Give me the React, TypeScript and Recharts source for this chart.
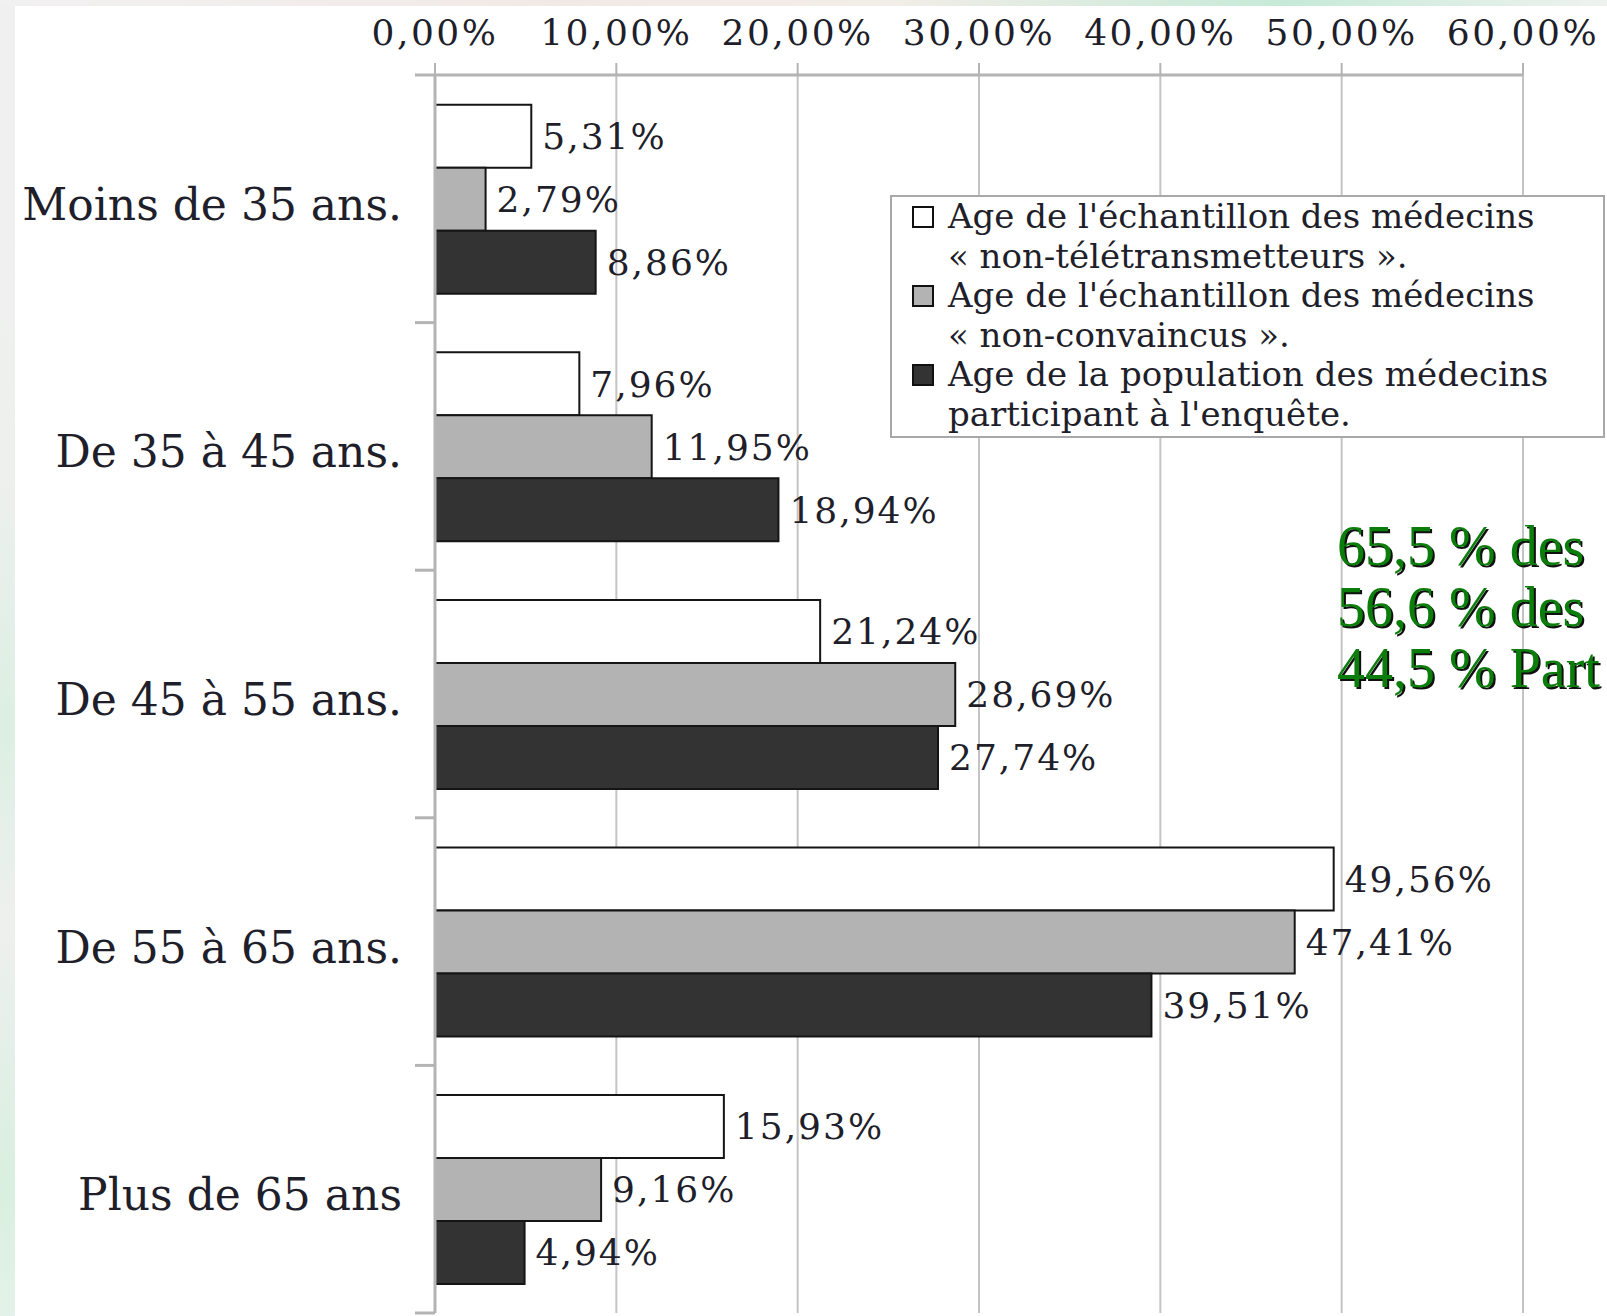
import React from 'react';
import { BarChart, Bar, XAxis, YAxis, CartesianGrid, LabelList, Legend } from 'recharts';

const categories = ['Moins de 35 ans.', 'De 35 à 45 ans.', 'De 45 à 55 ans.', 'De 55 à 65 ans.', 'Plus de 65 ans'];
const nonTeletransmetteurs = [5.31, 7.96, 21.24, 49.56, 15.93];
const nonConvaincus = [2.79, 11.95, 28.69, 47.41, 9.16];
const population = [8.86, 18.94, 27.74, 39.51, 4.94];
const xTicks = [0, 10, 20, 30, 40, 50, 60];
const seriesNames = [
  "Age de l'échantillon des médecins\n« non-télétransmetteurs ».",
  "Age de l'échantillon des médecins\n« non-convaincus ».",
  "Age de la population des médecins\nparticipant à l'enquête.",
];
const noteLines = ['65,5 % des', '56,6 % des', '44,5 % Part'];

const data = categories.map((cat, i) => ({
  category: cat,
  s1: nonTeletransmetteurs[i],
  s2: nonConvaincus[i],
  s3: population[i],
}));

const AXIS = '#b4b4b4';
const TEXT = '#1f1f2b';
const SERIF = "'DejaVu Serif', serif";
const Y_TICK_SIZE = 20;
const Y_TICK_MARGIN = 13;

const fmt = (v: any) => Number(v).toFixed(2).replace('.', ',') + '%';

const XTick = (props: any) => {
  const { x, y, payload } = props;
  return (
    <text x={x} y={y} textAnchor="middle" fontFamily={SERIF} fontSize={36} fill={TEXT} style={{ letterSpacing: 2.5 }}>
      {fmt(payload.value)}
    </text>
  );
};

const YTick = (props: any) => {
  const { x, y, payload, index, visibleTicksCount } = props;
  const half = payload && payload.offset ? payload.offset : 0;
  const axisX = x + Y_TICK_SIZE + Y_TICK_MARGIN;
  const count = visibleTicksCount || categories.length;
  return (
    <g>
      <line x1={axisX - Y_TICK_SIZE} x2={axisX} y1={y - half} y2={y - half} stroke={AXIS} strokeWidth={3} />
      {index === count - 1 && (
        <line x1={axisX - Y_TICK_SIZE} x2={axisX} y1={y + half} y2={y + half} stroke={AXIS} strokeWidth={3} />
      )}
      <text x={x} y={y} dy={21} textAnchor="end" fontFamily={SERIF} fontSize={44} fill={TEXT}>
        {payload.value}
      </text>
    </g>
  );
};

const renderLegend = (props: any) => {
  const { payload } = props;
  return (
    <div
      style={{
        border: '2px solid #a8a8a8',
        background: '#fff',
        boxSizing: 'border-box',
        width: 715,
        fontFamily: SERIF,
        fontSize: 34,
        lineHeight: '39.5px',
        color: TEXT,
        paddingBottom: 2,
      }}
    >
      {(payload || []).map((p: any, i: number) => (
        <div key={i} style={{ display: 'flex', alignItems: 'flex-start' }}>
          <div
            style={{
              width: 22,
              height: 22,
              marginLeft: 20,
              marginTop: 9,
              marginRight: 14,
              border: '2px solid #111',
              background: p.color,
              boxSizing: 'border-box',
              flex: 'none',
            }}
          />
          <div style={{ whiteSpace: 'pre' }}>{p.value}</div>
        </div>
      ))}
    </div>
  );
};

const labelStyle = { fontFamily: SERIF, fontSize: 36, fill: TEXT, letterSpacing: 2 } as any;

export default function App() {
  return (
    <div
      style={{
        position: 'absolute',
        left: 0,
        top: 0,
        width: 1607,
        height: 1316,
        overflow: 'hidden',
        background:
          'linear-gradient(90deg, #f2f1f1 0%, #f1e9e6 35%, #f3ede8 55%, #c6ead7 80%, #eef2ef 100%)',
      }}
    >
      <div
        style={{
          position: 'absolute',
          left: 0,
          top: 6,
          width: 15,
          bottom: 0,
          background: 'linear-gradient(180deg, #f0f0f0 0%, #eef0ee 35%, #dcefe2 55%, #eef0ee 70%, #d9efe0 90%, #e3f2e8 100%)',
        }}
      />
      <div style={{ position: 'absolute', left: 15, top: 6, right: 0, bottom: 0, background: '#ffffff' }} />
      <div style={{ position: 'absolute', left: 0, top: 0 }}>
        <BarChart
          width={1607}
          height={1316}
          data={data}
          layout="vertical"
          margin={{ top: 15, left: 15, right: 84, bottom: 3 }}
          barCategoryGap="12%"
          barGap={0}
        >
          <CartesianGrid horizontal={false} stroke="#c4c4c4" strokeWidth={2} />
          <XAxis
            type="number"
            orientation="top"
            domain={[0, 60]}
            ticks={xTicks}
            height={60}
            tickSize={12}
            tickMargin={18}
            axisLine={{ stroke: AXIS, strokeWidth: 3 }}
            tickLine={{ stroke: AXIS, strokeWidth: 2 }}
            tick={<XTick />}
            interval={0}
          />
          <YAxis
            type="category"
            dataKey="category"
            width={420}
            tickSize={Y_TICK_SIZE}
            tickMargin={Y_TICK_MARGIN}
            tickLine={false}
            axisLine={{ stroke: AXIS, strokeWidth: 3 }}
            tick={<YTick />}
            interval={0}
          />
          <Legend
            layout="horizontal"
            align="center"
            verticalAlign="middle"
            itemSorter="dataKey"
            content={renderLegend}
            wrapperStyle={{ left: 890, top: 195, width: 715, height: 'auto' }}
          />
          <Bar dataKey="s1" name={seriesNames[0]} fill="#ffffff" stroke="#151515" strokeWidth={2} isAnimationActive={false}>
            <LabelList dataKey="s1" position="right" offset={11} formatter={fmt} style={labelStyle} />
          </Bar>
          <Bar dataKey="s2" name={seriesNames[1]} fill="#b3b3b3" stroke="#151515" strokeWidth={2} isAnimationActive={false}>
            <LabelList dataKey="s2" position="right" offset={11} formatter={fmt} style={labelStyle} />
          </Bar>
          <Bar dataKey="s3" name={seriesNames[2]} fill="#333333" stroke="#151515" strokeWidth={2} isAnimationActive={false}>
            <LabelList dataKey="s3" position="right" offset={11} formatter={fmt} style={labelStyle} />
          </Bar>
        </BarChart>
      </div>
      <div
        style={{
          position: 'absolute',
          left: 1337,
          top: 516,
          fontFamily: "'Liberation Serif', serif",
          fontSize: 56,
          lineHeight: '61px',
          color: '#0b7d0b',
          whiteSpace: 'pre',
          textShadow: '2px 2px 0 #101010',
        }}
      >
        {noteLines.map((l, i) => (
          <div key={i}>{l}</div>
        ))}
      </div>
    </div>
  );
}
